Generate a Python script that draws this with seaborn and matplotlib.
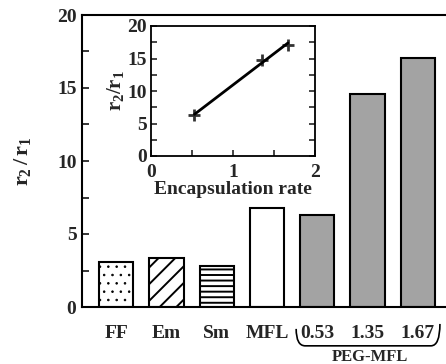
import matplotlib
matplotlib.use('Agg')
import matplotlib.pyplot as plt
import matplotlib.transforms as mtransforms
import seaborn as sns
import pandas as pd
from matplotlib.path import Path
from matplotlib.patches import PathPatch
from matplotlib.ticker import MultipleLocator

# ---- data ----
categories = ['FF', 'Em', 'Sm', 'MFL', '0.53', '1.35', '1.67']
ratios = [3.08, 3.33, 2.79, 6.78, 6.28, 14.6, 17.03]
fills = ['white', 'white', 'white', 'white', '#a3a3a3', '#a3a3a3', '#a3a3a3']
hatches = ['..', '//', '---', '', '', '', '']
group_label = 'PEG-MFL'
encap_rate = [0.53, 1.35, 1.67]
encap_ratio = [6.3, 14.7, 17.1]

sns.set_theme(style='ticks')
plt.rcParams['font.family'] = ['Liberation Serif', 'DejaVu Serif']
plt.rcParams['font.weight'] = 'bold'
plt.rcParams['axes.labelweight'] = 'bold'
plt.rcParams['mathtext.fontset'] = 'custom'
plt.rcParams['mathtext.rm'] = 'Liberation Serif:bold'
plt.rcParams['mathtext.it'] = 'Liberation Serif:bold'
plt.rcParams['mathtext.bf'] = 'Liberation Serif:bold'
plt.rcParams['hatch.linewidth'] = 1.4
plt.rcParams['hatch.color'] = 'black'

W, H = 446, 364
fig = plt.figure(figsize=(W / 100, H / 100), dpi=100)
fig.patch.set_facecolor('white')

ax = fig.add_axes([82 / W, (H - 307) / H, (452 - 82) / W, (307 - 15) / H])
df = pd.DataFrame({'cat': categories, 'ratio': ratios})
sns.barplot(data=df, x='cat', y='ratio', hue='cat', palette=fills, legend=False,
            width=0.68, edgecolor='black', linewidth=1.5, saturation=1, ax=ax)
for patch, h in zip(ax.patches, hatches):
    patch.set_hatch(h)
    if h.startswith('.') and hasattr(patch, 'set_hatch_linewidth'):
        patch.set_hatch_linewidth(0.6)

ax.set_xlim(-0.68, 6.68)
ax.set_ylim(0, 20)
ax.yaxis.set_major_locator(MultipleLocator(5))
ax.yaxis.set_minor_locator(MultipleLocator(2.5))
ax.tick_params(axis='y', which='both', direction='in', length=5, width=1.3,
               labelsize=14, pad=4)
ax.tick_params(axis='x', length=0, labelsize=14, pad=13)
for lab in ax.get_xticklabels() + ax.get_yticklabels():
    lab.set_fontweight('bold')
ax.set_xlabel('')
ax.set_ylabel(r'$r_2\,/\,r_1$', fontsize=16, labelpad=17)
for side in ['left', 'bottom', 'top']:
    ax.spines[side].set_linewidth(1.5)
    ax.spines[side].set_color('black')
ax.spines['right'].set_visible(False)

# brace under PEG-MFL group
trans = mtransforms.blended_transform_factory(ax.transData, ax.transAxes)
x0, x1 = 3.58, 6.44
yt_l, yt_r, yb = -0.075, -0.058, -0.133
verts = [(x0, yt_l), (x0, yb), (x0 + 0.18, yb),
         (x1 - 0.18, yb),
         (x1, yb), (x1, yt_r)]
codes = [Path.MOVETO, Path.CURVE3, Path.CURVE3,
         Path.LINETO,
         Path.CURVE3, Path.CURVE3]
brace = PathPatch(Path(verts, codes), transform=trans, fill=False,
                  edgecolor='black', linewidth=1.2, clip_on=False)
ax.add_patch(brace)
ax.text(5.05, -0.143, group_label, transform=trans, ha='center', va='top',
        fontsize=12, fontweight='bold')

# inset
ins = fig.add_axes([151 / W, (H - 156) / H, (315 - 151) / W, (156 - 26) / H])
ins.set_facecolor('white')
sns.regplot(x=encap_rate, y=encap_ratio, ci=None, truncate=True, marker='+',
            color='black', scatter_kws={'s': 70, 'linewidths': 2},
            line_kws={'linewidth': 2}, ax=ins)
ins.set_xlim(0, 2)
ins.set_ylim(0, 20)
ins.xaxis.set_major_locator(MultipleLocator(1))
ins.xaxis.set_minor_locator(MultipleLocator(0.5))
ins.yaxis.set_major_locator(MultipleLocator(5))
ins.yaxis.set_minor_locator(MultipleLocator(2.5))
ins.tick_params(axis='both', which='both', direction='in', length=4, width=1.2,
                labelsize=14, left=True, right=True, bottom=True, top=False)
ins.tick_params(axis='y', pad=3)
ins.tick_params(axis='x', pad=6)
for lab in ins.get_xticklabels() + ins.get_yticklabels():
    lab.set_fontweight('bold')
for side in ins.spines:
    ins.spines[side].set_linewidth(1.3)
    ins.spines[side].set_color('black')
ins.set_xlabel('Encapsulation rate', fontsize=14, fontweight='bold', labelpad=0)
ins.set_ylabel(r'$r_2/r_1$', fontsize=15, labelpad=1)

fig.savefig('out.png', dpi=100, facecolor='white')
